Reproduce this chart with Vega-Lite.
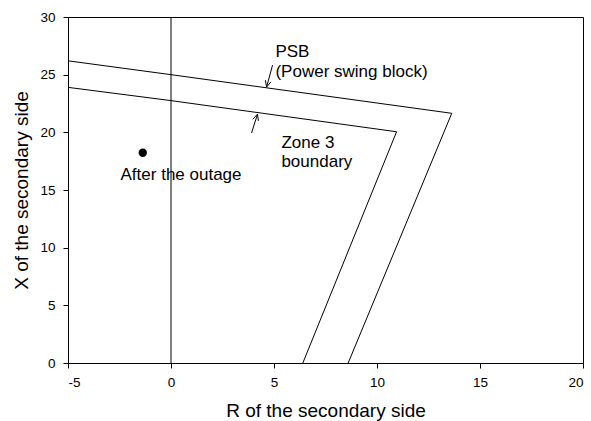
{
  "$schema": "https://vega.github.io/schema/vega-lite/v6.json",
  "width": 515,
  "height": 346,
  "autosize": {"type": "none"},
  "padding": {"left": 68, "top": 17, "right": 8, "bottom": 58},
  "background": "white",
  "config": {
    "view": {"stroke": "black", "strokeWidth": 1},
    "font": "Liberation Sans",
    "axis": {
      "grid": false,
      "domainColor": "black",
      "tickColor": "black",
      "labelColor": "black",
      "titleColor": "black",
      "labelFont": "Liberation Sans",
      "titleFont": "Liberation Sans",
      "labelFontSize": 13.5,
      "titleFontSize": 19,
      "titleFontWeight": "normal",
      "tickSize": 5,
      "labelExpr": "toString(datum.value)"
    }
  },
  "datasets": {
    "lines": [
      {"seg": "psb", "ord": 1, "r": -5, "x": 26.2},
      {"seg": "psb", "ord": 2, "r": 0, "x": 25.0},
      {"seg": "psb", "ord": 3, "r": 13.63, "x": 21.65},
      {"seg": "psb", "ord": 4, "r": 8.6, "x": 0},
      {"seg": "zone3", "ord": 1, "r": -5, "x": 23.9},
      {"seg": "zone3", "ord": 2, "r": 0, "x": 22.75},
      {"seg": "zone3", "ord": 3, "r": 10.95, "x": 20.05},
      {"seg": "zone3", "ord": 4, "r": 6.4, "x": 0},
      {"seg": "vaxis", "ord": 1, "r": 0, "x": 0},
      {"seg": "vaxis", "ord": 2, "r": 0, "x": 30},
      {"seg": "a1shaft", "ord": 1, "r": 4.93, "x": 25.83},
      {"seg": "a1shaft", "ord": 2, "r": 4.64, "x": 23.92},
      {"seg": "a1head", "ord": 1, "r": 4.85, "x": 24.38},
      {"seg": "a1head", "ord": 2, "r": 4.64, "x": 23.92},
      {"seg": "a1head", "ord": 3, "r": 4.58, "x": 24.52},
      {"seg": "a2shaft", "ord": 1, "r": 3.91, "x": 19.94},
      {"seg": "a2shaft", "ord": 2, "r": 4.2, "x": 21.58},
      {"seg": "a2head", "ord": 1, "r": 3.97, "x": 21.13},
      {"seg": "a2head", "ord": 2, "r": 4.2, "x": 21.58},
      {"seg": "a2head", "ord": 3, "r": 4.24, "x": 20.99}
    ],
    "points": [
      {"r": -1.37, "x": 18.23}
    ],
    "labels": [
      {"label": "PSB", "r": 5.07, "x": 26.95},
      {"label": "(Power swing block)", "r": 5.07, "x": 25.22},
      {"label": "Zone 3", "r": 5.36, "x": 19.07},
      {"label": "boundary", "r": 5.36, "x": 17.43},
      {"label": "After the outage", "r": -2.45, "x": 16.3}
    ]
  },
  "encoding": {
    "x": {
      "field": "r",
      "type": "quantitative",
      "scale": {"domain": [-5, 20], "nice": false, "zero": false},
      "axis": {
        "title": "R of the secondary side",
        "values": [-5, 0, 5, 10, 15, 20],
        "labelPadding": 7,
        "titlePadding": 13
      }
    },
    "y": {
      "field": "x",
      "type": "quantitative",
      "scale": {"domain": [0, 30], "nice": false},
      "axis": {
        "title": "X of the secondary side",
        "values": [0, 5, 10, 15, 20, 25, 30],
        "labelPadding": 8,
        "titlePadding": 8
      }
    }
  },
  "layer": [
    {
      "data": {"name": "lines"},
      "mark": {"type": "line", "color": "black", "strokeWidth": 1},
      "encoding": {
        "detail": {"field": "seg"},
        "order": {"field": "ord", "type": "quantitative"}
      }
    },
    {
      "data": {"name": "points"},
      "mark": {"type": "point", "filled": true, "color": "black", "size": 70, "opacity": 1}
    },
    {
      "data": {"name": "labels"},
      "mark": {"type": "text", "align": "left", "baseline": "middle", "fontSize": 17, "color": "black", "font": "Liberation Sans"},
      "encoding": {"text": {"field": "label"}}
    }
  ]
}
